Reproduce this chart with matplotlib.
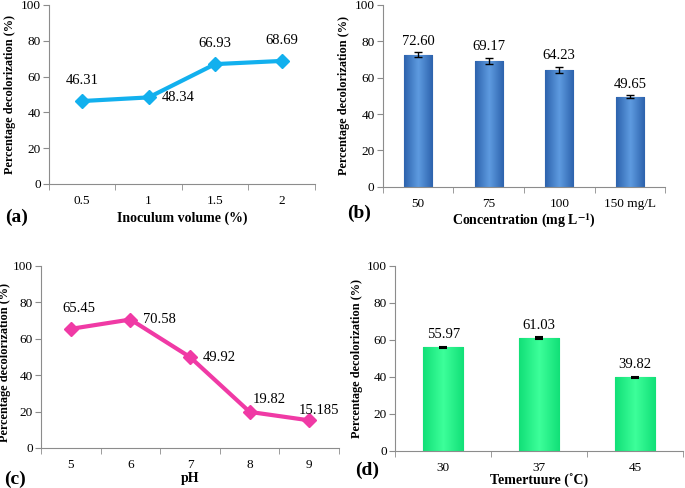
import matplotlib
matplotlib.use("Agg")
import matplotlib.pyplot as plt
import numpy as np
from matplotlib.colors import LinearSegmentedColormap

plt.rcParams["font.family"] = ["Liberation Serif", "DejaVu Serif"]
plt.rcParams["font.size"] = 10
plt.rcParams["mathtext.fontset"] = "stix"

# (a) inoculum volume
inoc_labels = ["0.5", "1", "1.5", "2"]
inoc_values = [46.31, 48.34, 66.93, 68.69]
inoc_text = ["46.31", "48.34", "66.93", "68.69"]

# (b) concentration
conc_labels = ["50", "75", "100", "150 mg/L"]
conc_values = [72.60, 69.17, 64.23, 49.65]
conc_err = [1.4, 1.7, 1.7, 0.6]
conc_text = ["72.60", "69.17", "64.23", "49.65"]

# (c) pH
ph_labels = ["5", "6", "7", "8", "9"]
ph_values = [65.45, 70.58, 49.92, 19.82, 15.185]
ph_text = ["65.45", "70.58", "49.92", "19.82", "15.185"]

# (d) temperature
temp_labels = ["30", "37", "45"]
temp_values = [55.97, 61.03, 39.82]
temp_err = [0.3, 0.3, 0.3]
temp_text = ["55.97", "61.03", "39.82"]

ylab = "Percentage decolorization (%)"
spine_col = "#8c8c8c"


def style_axes(ax, n):
    ax.set_ylim(0, 100)
    ax.set_yticks(range(0, 101, 20))
    ax.set_xlim(-0.5, n - 0.5)
    ax.set_xticks(np.arange(n))
    ax.set_xticks(np.arange(n + 1) - 0.5, minor=True)
    ax.tick_params(axis="x", which="major", length=0, pad=8, labelsize=9.5)
    ax.tick_params(axis="x", which="minor", length=4, color=spine_col)
    ax.tick_params(axis="y", length=4, color=spine_col, pad=2, labelsize=9.5)
    for s in ["top", "right"]:
        ax.spines[s].set_visible(False)
    for s in ["left", "bottom"]:
        ax.spines[s].set_color(spine_col)
    ax.set_ylabel(ylab, fontweight="bold", fontsize=8.8, labelpad=3)


def gradient_bars(ax, bars, dark, light):
    cmap = LinearSegmentedColormap.from_list("g", [dark, light, dark])
    grad = np.linspace(0, 1, 64).reshape(1, -1)
    for b in bars:
        x0, y0 = b.get_x(), b.get_y()
        w, h = b.get_width(), b.get_height()
        im = ax.imshow(grad, cmap=cmap, extent=[x0, x0 + w, y0, y0 + h],
                       aspect="auto", zorder=2)
        im.set_clip_path(b)
    ax.set_xlim(-0.5, len(bars) - 0.5)
    ax.set_ylim(0, 100)


fig = plt.figure(figsize=(6.85, 4.88), dpi=100)

# (a)
ax = fig.add_axes([0.0715, 0.623, 0.388, 0.367])
xa = np.arange(len(inoc_values))
ax.plot(xa, inoc_values, color="#12b0ee", lw=3, marker="D", ms=7, zorder=3)
style_axes(ax, len(inoc_values))
ax.set_xticklabels(inoc_labels)
offs_a = [(0, 15), (21, 0), (0, 15), (0, 15)]
for x, v, t, o in zip(xa, inoc_values, inoc_text, offs_a):
    ax.annotate(t, (x, v), xytext=o, textcoords="offset points",
                ha="center", va="center", fontsize=10.5)
ax.set_xlabel("Inoculum volume (%)", fontweight="bold", fontsize=10, labelpad=3)
fig.text(0.008, 0.555, "(a)", fontweight="bold", fontsize=14, va="center")

# (b)
ax = fig.add_axes([0.559, 0.617, 0.412, 0.373])
xb = np.arange(len(conc_values))
bars = ax.bar(xb, conc_values, width=0.4, color="#3a78c8", edgecolor="#2a5a9a",
              lw=0.8, zorder=2)
gradient_bars(ax, bars, "#2d63ad", "#5e9be0")
ax.errorbar(xb, conc_values, yerr=conc_err, fmt="none", ecolor="black",
            capsize=3, elinewidth=1, capthick=1, zorder=4)
style_axes(ax, len(conc_values))
ax.set_xticklabels(conc_labels)
for x, v, e, t in zip(xb, conc_values, conc_err, conc_text):
    ax.text(x, v + e + 2.5, t, ha="center", va="bottom", fontsize=10.5)
ax.set_xlabel("Concentration (mg L$^{\\mathbf{-1}}$)", fontweight="bold",
              fontsize=10, labelpad=1)
fig.text(0.507, 0.563, "(b)", fontweight="bold", fontsize=14, va="center")

# (c)
ax = fig.add_axes([0.060, 0.082, 0.435, 0.373])
xc = np.arange(len(ph_values))
ax.plot(xc, ph_values, color="#f03aa5", lw=3, marker="D", ms=7, zorder=3)
style_axes(ax, len(ph_values))
ax.yaxis.set_label_coords(-0.1, 0.47)
ax.set_xticklabels(ph_labels)
offs_c = [(6, 15), (21, 0), (21, 0), (14, 9), (7, 7)]
for x, v, t, o in zip(xc, ph_values, ph_text, offs_c):
    ax.annotate(t, (x, v), xytext=o, textcoords="offset points",
                ha="center", va="center", fontsize=10.5)
ax.set_xlabel("pH", fontweight="bold", fontsize=10, labelpad=1)
fig.text(0.006, 0.018, "(c)", fontweight="bold", fontsize=14, va="center")

# (d)
ax = fig.add_axes([0.577, 0.076, 0.420, 0.379])
xd = np.arange(len(temp_values))
bars = ax.bar(xd, temp_values, width=0.42, color="#1ff585", edgecolor="#17c06a",
              lw=0.8, zorder=2)
gradient_bars(ax, bars, "#12e078", "#3dff9a")
ax.errorbar(xd, temp_values, yerr=temp_err, fmt="none", ecolor="black",
            capsize=3, elinewidth=1, capthick=1.5, zorder=4)
style_axes(ax, len(temp_values))
ax.set_xticklabels(temp_labels)
for x, v, t in zip(xd, temp_values, temp_text):
    ax.text(x, v + 3.5, t, ha="center", va="bottom", fontsize=10.5)
ax.set_xlabel("Temertuure (˚C)", fontweight="bold", fontsize=10, labelpad=0)
fig.text(0.518, 0.037, "(d)", fontweight="bold", fontsize=14, va="center")

fig.savefig("out.png", dpi=100)
